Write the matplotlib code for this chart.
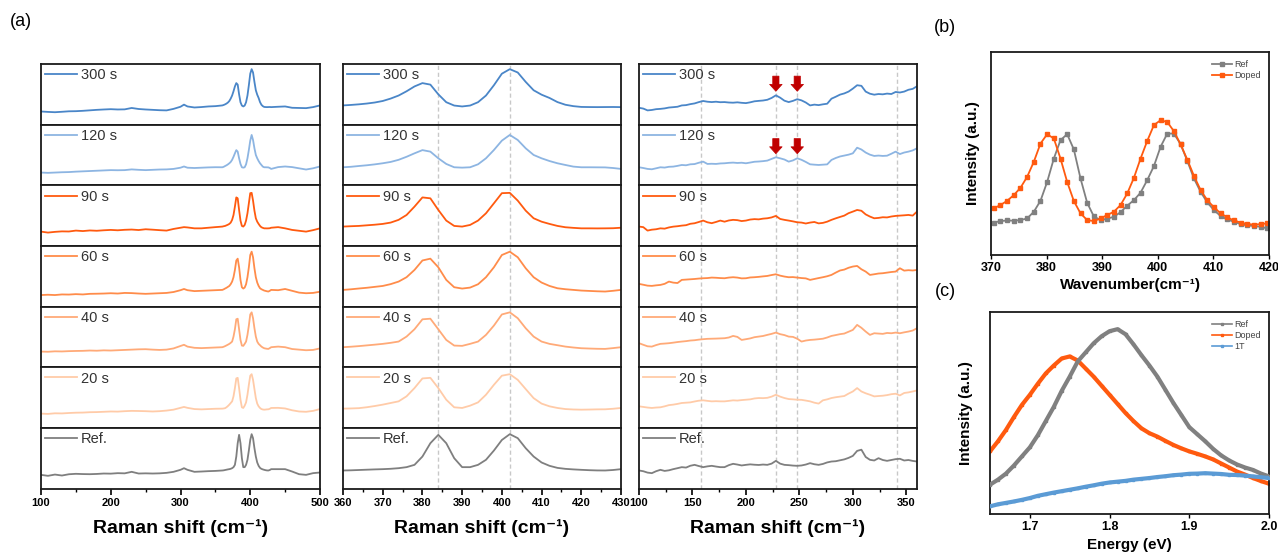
import numpy as np
import matplotlib
matplotlib.use('Agg')
import matplotlib.pyplot as plt
from matplotlib.ticker import MultipleLocator

plt.rcParams['font.family'] = ['Liberation Sans', 'DejaVu Sans']

# ---- (a) Raman spectra, full range (col 1) and A1g/E2g zoom (col 2) ----
samples = ['300 s', '120 s', '90 s', '60 s', '40 s', '20 s', 'Ref.']
colors = ['#4a86c8', '#8db5e2', '#ff5a0f', '#ff8c4a', '#ffaa78', '#ffcba8', '#7f7f7f']

raman_x = ([100, 110, 120, 130, 140, 150, 160, 170, 180, 190, 200, 210, 220, 230,
            240, 250, 260, 270, 280, 290, 300, 305, 310, 320, 330, 340, 350]
           + list(range(360, 432, 2))
           + [440, 450, 460, 470, 480, 490, 500])

r300 = [0.217, 0.210, 0.205, 0.212, 0.220, 0.222, 0.228, 0.236, 0.244, 0.250, 0.255, 0.250, 0.252, 0.275,
        0.258, 0.250, 0.244, 0.238, 0.235, 0.260, 0.295, 0.330, 0.300, 0.283, 0.290, 0.300, 0.305,
        0.317, 0.325, 0.335, 0.348, 0.365, 0.390, 0.430, 0.480, 0.550, 0.630, 0.685, 0.660, 0.500, 0.370,
        0.315, 0.300, 0.315, 0.370, 0.480, 0.650, 0.840, 0.915, 0.860, 0.705, 0.567, 0.494, 0.440, 0.372,
        0.328, 0.305, 0.292, 0.290, 0.289, 0.290, 0.291, 0.289,
        0.295, 0.300, 0.278, 0.275, 0.272, 0.289, 0.317]
r120 = [0.210, 0.205, 0.210, 0.215, 0.218, 0.225, 0.230, 0.235, 0.240, 0.245, 0.250, 0.248, 0.250, 0.262,
        0.255, 0.250, 0.255, 0.260, 0.262, 0.270, 0.290, 0.310, 0.290, 0.285, 0.290, 0.295, 0.298,
        0.297, 0.305, 0.318, 0.330, 0.345, 0.363, 0.385, 0.420, 0.470, 0.527, 0.580, 0.555, 0.445, 0.352,
        0.297, 0.291, 0.297, 0.346, 0.445, 0.582, 0.736, 0.830, 0.747, 0.610, 0.500, 0.445, 0.400, 0.363,
        0.335, 0.308, 0.297, 0.297, 0.296, 0.295, 0.285, 0.270,
        0.300, 0.310, 0.300, 0.280, 0.260, 0.280, 0.310]
r90 = [0.236, 0.220, 0.232, 0.240, 0.238, 0.253, 0.245, 0.255, 0.250, 0.258, 0.264, 0.258, 0.266, 0.270,
       0.262, 0.275, 0.268, 0.260, 0.253, 0.280, 0.300, 0.310, 0.305, 0.290, 0.290, 0.300, 0.310,
       0.319, 0.325, 0.330, 0.340, 0.350, 0.363, 0.385, 0.430, 0.510, 0.648, 0.800, 0.785, 0.593, 0.418,
       0.330, 0.319, 0.346, 0.418, 0.538, 0.703, 0.870, 0.875, 0.747, 0.582, 0.456, 0.400, 0.363, 0.330,
       0.308, 0.298, 0.290, 0.290, 0.289, 0.290, 0.292, 0.300,
       0.310, 0.290, 0.264, 0.250, 0.236, 0.260, 0.290]
r60 = [0.190, 0.195, 0.190, 0.200, 0.198, 0.205, 0.200, 0.210, 0.212, 0.215, 0.220, 0.215, 0.225, 0.222,
       0.215, 0.210, 0.215, 0.220, 0.225, 0.240, 0.270, 0.290, 0.270, 0.255, 0.260, 0.265, 0.270,
       0.275, 0.285, 0.298, 0.310, 0.325, 0.340, 0.370, 0.412, 0.484, 0.604, 0.760, 0.790, 0.648, 0.440,
       0.319, 0.297, 0.313, 0.368, 0.484, 0.648, 0.850, 0.905, 0.813, 0.632, 0.484, 0.396, 0.340, 0.302,
       0.286, 0.275, 0.264, 0.258, 0.252, 0.248, 0.260, 0.275,
       0.270, 0.290, 0.260, 0.230, 0.220, 0.225, 0.245]
r40 = [0.258, 0.255, 0.262, 0.260, 0.265, 0.268, 0.270, 0.275, 0.272, 0.278, 0.275, 0.280, 0.285, 0.290,
       0.295, 0.297, 0.290, 0.285, 0.290, 0.310, 0.350, 0.370, 0.340, 0.320, 0.315, 0.320, 0.325,
       0.330, 0.338, 0.348, 0.360, 0.372, 0.385, 0.402, 0.423, 0.505, 0.626, 0.790, 0.800, 0.626, 0.450,
       0.357, 0.352, 0.385, 0.423, 0.533, 0.687, 0.870, 0.905, 0.808, 0.643, 0.505, 0.423, 0.385, 0.363,
       0.340, 0.325, 0.313, 0.308, 0.304, 0.302, 0.315, 0.330,
       0.340, 0.330, 0.300, 0.290, 0.280, 0.285, 0.310]
r20 = [0.235, 0.230, 0.240, 0.238, 0.245, 0.250, 0.252, 0.258, 0.260, 0.265, 0.270, 0.268, 0.275, 0.280,
       0.278, 0.275, 0.270, 0.275, 0.285, 0.300, 0.330, 0.345, 0.330, 0.310, 0.305, 0.310, 0.315,
       0.317, 0.320, 0.325, 0.340, 0.360, 0.383, 0.410, 0.437, 0.520, 0.656, 0.815, 0.825, 0.656, 0.464,
       0.339, 0.328, 0.366, 0.420, 0.546, 0.710, 0.860, 0.885, 0.792, 0.640, 0.490, 0.400, 0.355, 0.328,
       0.310, 0.303, 0.300, 0.302, 0.305, 0.306, 0.315, 0.328,
       0.330, 0.320, 0.290, 0.270, 0.265, 0.280, 0.310]
rref = [0.225, 0.209, 0.230, 0.214, 0.235, 0.242, 0.238, 0.236, 0.240, 0.247, 0.245, 0.253, 0.250, 0.275,
        0.247, 0.250, 0.247, 0.250, 0.258, 0.275, 0.308, 0.335, 0.308, 0.275, 0.280, 0.286, 0.290,
        0.297, 0.300, 0.305, 0.310, 0.315, 0.319, 0.325, 0.335, 0.352, 0.390, 0.527, 0.747, 0.885, 0.747,
        0.500, 0.352, 0.352, 0.390, 0.473, 0.626, 0.800, 0.896, 0.830, 0.665, 0.527, 0.429, 0.374, 0.340,
        0.324, 0.315, 0.308, 0.302, 0.298, 0.297, 0.305, 0.319,
        0.319, 0.319, 0.280, 0.236, 0.225, 0.253, 0.264]

# ---- (a) low-frequency zoom (col 3) ----
low_x = list(range(100, 364, 4))
w300 = [0.278, 0.265, 0.235, 0.242, 0.255, 0.260, 0.268, 0.282, 0.288, 0.295,
        0.317, 0.322, 0.338, 0.350, 0.372, 0.390, 0.378, 0.372, 0.378, 0.370,
        0.372, 0.365, 0.362, 0.368, 0.360, 0.355, 0.368, 0.385, 0.392, 0.398,
        0.410, 0.440, 0.483, 0.445, 0.395, 0.372, 0.392, 0.420, 0.400, 0.365,
        0.317, 0.330, 0.322, 0.335, 0.345, 0.428, 0.460, 0.495, 0.515, 0.545,
        0.594, 0.650, 0.640, 0.545, 0.510, 0.494, 0.505, 0.500, 0.512, 0.505,
        0.539, 0.530, 0.545, 0.575, 0.590, 0.633]
w120 = [0.297, 0.285, 0.270, 0.264, 0.280, 0.297, 0.292, 0.305, 0.308, 0.320,
        0.335, 0.330, 0.346, 0.350, 0.372, 0.390, 0.352, 0.355, 0.352, 0.360,
        0.363, 0.370, 0.374, 0.368, 0.372, 0.363, 0.375, 0.388, 0.392, 0.398,
        0.407, 0.435, 0.462, 0.445, 0.425, 0.390, 0.410, 0.445, 0.420, 0.385,
        0.346, 0.340, 0.335, 0.340, 0.345, 0.418, 0.450, 0.475, 0.490, 0.505,
        0.527, 0.620, 0.590, 0.540, 0.505, 0.484, 0.490, 0.484, 0.488, 0.520,
        0.555, 0.515, 0.540, 0.555, 0.575, 0.610]
w90 = [0.319, 0.310, 0.253, 0.268, 0.275, 0.290, 0.285, 0.305, 0.318, 0.325,
       0.335, 0.342, 0.365, 0.374, 0.395, 0.418, 0.390, 0.375, 0.395, 0.418,
       0.400, 0.420, 0.430, 0.425, 0.410, 0.418, 0.435, 0.442, 0.438, 0.450,
       0.456, 0.470, 0.495, 0.445, 0.430, 0.418, 0.405, 0.390, 0.385, 0.370,
       0.385, 0.395, 0.372, 0.380, 0.400, 0.430, 0.455, 0.478, 0.500, 0.540,
       0.566, 0.593, 0.580, 0.520, 0.484, 0.456, 0.462, 0.473, 0.470, 0.485,
       0.495, 0.500, 0.505, 0.511, 0.500, 0.566]
w60 = [0.374, 0.360, 0.345, 0.341, 0.350, 0.357, 0.375, 0.412, 0.395, 0.388,
       0.440, 0.445, 0.450, 0.455, 0.462, 0.467, 0.470, 0.478, 0.475, 0.470,
       0.467, 0.478, 0.484, 0.478, 0.465, 0.467, 0.480, 0.484, 0.490, 0.498,
       0.505, 0.520, 0.533, 0.510, 0.495, 0.484, 0.486, 0.478, 0.470, 0.465,
       0.440, 0.455, 0.470, 0.484, 0.500, 0.522, 0.560, 0.595, 0.610, 0.640,
       0.660, 0.670, 0.615, 0.577, 0.522, 0.533, 0.545, 0.550, 0.560, 0.570,
       0.577, 0.632, 0.593, 0.600, 0.595, 0.604]
w40 = [0.396, 0.370, 0.345, 0.340, 0.365, 0.385, 0.390, 0.396, 0.405, 0.415,
       0.423, 0.430, 0.440, 0.445, 0.455, 0.462, 0.468, 0.470, 0.472, 0.475,
       0.478, 0.490, 0.516, 0.500, 0.450, 0.462, 0.475, 0.495, 0.505, 0.515,
       0.533, 0.550, 0.571, 0.545, 0.530, 0.505, 0.500, 0.470, 0.423, 0.440,
       0.450, 0.455, 0.462, 0.470, 0.490, 0.516, 0.530, 0.545, 0.555, 0.585,
       0.615, 0.698, 0.650, 0.588, 0.533, 0.560, 0.555, 0.550, 0.565, 0.560,
       0.571, 0.560, 0.575, 0.588, 0.605, 0.643]
w20 = [0.355, 0.345, 0.335, 0.328, 0.335, 0.339, 0.355, 0.375, 0.383, 0.395,
       0.410, 0.415, 0.420, 0.435, 0.448, 0.454, 0.445, 0.437, 0.440, 0.437,
       0.437, 0.445, 0.454, 0.450, 0.458, 0.464, 0.470, 0.485, 0.492, 0.490,
       0.495, 0.515, 0.546, 0.515, 0.492, 0.475, 0.470, 0.464, 0.462, 0.450,
       0.437, 0.415, 0.400, 0.454, 0.470, 0.492, 0.505, 0.515, 0.525, 0.565,
       0.600, 0.656, 0.600, 0.570, 0.546, 0.519, 0.525, 0.530, 0.540, 0.555,
       0.563, 0.535, 0.575, 0.585, 0.600, 0.617]
wref = [0.297, 0.285, 0.262, 0.253, 0.285, 0.308, 0.290, 0.300, 0.319, 0.335,
        0.352, 0.345, 0.375, 0.390, 0.370, 0.352, 0.365, 0.374, 0.362, 0.352,
        0.352, 0.385, 0.407, 0.395, 0.380, 0.390, 0.398, 0.392, 0.388, 0.395,
        0.390, 0.410, 0.456, 0.410, 0.390, 0.385, 0.378, 0.374, 0.380, 0.395,
        0.418, 0.400, 0.390, 0.405, 0.430, 0.445, 0.450, 0.465, 0.480, 0.505,
        0.538, 0.620, 0.640, 0.520, 0.473, 0.462, 0.500, 0.470, 0.456, 0.470,
        0.484, 0.490, 0.462, 0.470, 0.455, 0.445]

# ---- (b) Raman comparison ----
wn_x = [370.5, 371.7, 372.9, 374.1, 375.3, 376.5, 377.7, 378.9, 380.1, 381.3,
        382.5, 383.7, 384.9, 386.1, 387.3, 388.5, 389.7, 390.9, 392.1, 393.3,
        394.5, 395.7, 396.9, 398.1, 399.3, 400.5, 401.7, 402.9, 404.1, 405.3,
        406.5, 407.7, 408.9, 410.1, 411.3, 412.5, 413.7, 414.9, 416.1, 417.3,
        418.5, 419.7]
b_ref = [0.160, 0.167, 0.170, 0.169, 0.172, 0.180, 0.213, 0.267, 0.360, 0.475,
         0.566, 0.595, 0.520, 0.377, 0.257, 0.190, 0.172, 0.179, 0.188, 0.211,
         0.243, 0.270, 0.307, 0.369, 0.438, 0.533, 0.598, 0.598, 0.546, 0.464,
         0.377, 0.311, 0.259, 0.221, 0.192, 0.175, 0.164, 0.152, 0.146, 0.143,
         0.139, 0.131]
b_doped = [0.230, 0.246, 0.267, 0.295, 0.331, 0.385, 0.459, 0.549, 0.595, 0.574,
           0.475, 0.360, 0.266, 0.205, 0.172, 0.167, 0.180, 0.197, 0.213, 0.246,
           0.303, 0.380, 0.475, 0.562, 0.640, 0.664, 0.655, 0.610, 0.545, 0.470,
           0.390, 0.320, 0.270, 0.235, 0.205, 0.185, 0.170, 0.160, 0.152, 0.150,
           0.152, 0.156]

# ---- (c) PL ----
pl_x = [1.65, 1.66, 1.67, 1.68, 1.69, 1.70, 1.71, 1.72, 1.73, 1.74, 1.75, 1.76,
        1.77, 1.78, 1.79, 1.80, 1.81, 1.82, 1.83, 1.84, 1.85, 1.86, 1.87, 1.88,
        1.89, 1.90, 1.91, 1.92, 1.93, 1.94, 1.95, 1.96, 1.97, 1.98, 1.99, 2.00]
pl_ref = [0.145, 0.170, 0.200, 0.240, 0.285, 0.330, 0.390, 0.460, 0.530, 0.610, 0.680, 0.755,
          0.800, 0.845, 0.880, 0.905, 0.915, 0.890, 0.840, 0.786, 0.735, 0.680, 0.615, 0.550,
          0.490, 0.430, 0.395, 0.360, 0.322, 0.290, 0.265, 0.245, 0.230, 0.218, 0.200, 0.186]
pl_doped = [0.310, 0.360, 0.416, 0.480, 0.540, 0.590, 0.645, 0.696, 0.735, 0.770, 0.780, 0.760,
            0.720, 0.680, 0.635, 0.590, 0.545, 0.500, 0.460, 0.424, 0.400, 0.383, 0.362, 0.342,
            0.325, 0.310, 0.298, 0.285, 0.270, 0.250, 0.230, 0.210, 0.195, 0.178, 0.163, 0.150]
pl_1t = [0.038, 0.048, 0.055, 0.062, 0.070, 0.079, 0.090, 0.098, 0.106, 0.113, 0.120, 0.127,
         0.135, 0.142, 0.150, 0.156, 0.160, 0.164, 0.170, 0.174, 0.178, 0.183, 0.187, 0.192,
         0.195, 0.199, 0.200, 0.202, 0.200, 0.198, 0.194, 0.193, 0.190, 0.186, 0.182, 0.178]

spectra = [r300, r120, r90, r60, r40, r20, rref]
low_spectra = [w300, w120, w90, w60, w40, w20, wref]

W, H = 1278, 556
fig = plt.figure(figsize=(W / 100, H / 100), dpi=100)


def px_axes(l, t, r, b):
    return fig.add_axes([l / W, 1 - b / H, (r - l) / W, (b - t) / H])


def style_box(ax, lw=1.3):
    for s in ax.spines.values():
        s.set_linewidth(lw)
        s.set_color('#1a1a1a')


cols = [
    (41, 320, (100, 500), 100, 50, [], raman_x, spectra),
    (343, 621, (360, 430), 10, 5, [384, 402], raman_x, spectra),
    (639, 917, (100, 360), 50, 25, [158, 228, 248, 341], low_x, low_spectra),
]
top, bottom = 64, 488.5
rh = (bottom - top) / 7

for ci, (l, r, xlim, major, minor, dashes, xs, ys) in enumerate(cols):
    for i in range(7):
        ax = px_axes(l, top + i * rh, r, top + (i + 1) * rh)
        for d in dashes:
            ax.axvline(d, color='#c8c8c8', ls=(0, (3, 2)), lw=1, zorder=0)
        ax.plot(xs, ys[i], color=colors[i], lw=1.3, label=samples[i])
        ax.set_xlim(*xlim)
        ax.set_ylim(0, 1)
        ax.set_yticks([])
        style_box(ax)
        ax.legend(loc='upper left', frameon=False, fontsize=10.5, handlelength=2.2,
                  handletextpad=0.25, borderaxespad=0.15, borderpad=0.15,
                  labelcolor='#333333')
        if ci == 2 and i < 2:
            for ax_x in [228, 248]:
                ax.annotate('', xy=(ax_x, 0.55 - 0.03 * i), xycoords=('data', 'axes fraction'),
                            xytext=(ax_x, 0.80 - 0.03 * i), textcoords=('data', 'axes fraction'),
                            arrowprops=dict(arrowstyle='simple,head_length=0.5,head_width=0.9,tail_width=0.45',
                                            fc='#c00000', ec='#c00000', lw=0.5,
                                            shrinkA=0, shrinkB=0))
        if i < 6:
            ax.set_xticks([])
        else:
            ax.xaxis.set_major_locator(MultipleLocator(major))
            ax.xaxis.set_minor_locator(MultipleLocator(minor))
            ax.tick_params(axis='x', which='major', direction='out', length=4, width=1.2,
                           labelsize=8, pad=3)
            ax.tick_params(axis='x', which='minor', direction='out', length=2.5, width=1.0)
            for t in ax.get_xticklabels():
                t.set_fontweight('bold')
            ax.set_xlabel('Raman shift (cm⁻¹)', fontsize=14, fontweight='bold', labelpad=8)

# (b)
axb = px_axes(991, 52, 1269, 255)
axb.plot(wn_x, b_ref, color='#808080', marker='s', ms=3.5, lw=1.3, label='Ref')
axb.plot(wn_x, b_doped, color='#ff5a0f', marker='s', ms=3.5, lw=1.3, label='Doped')
axb.set_xlim(370, 420)
axb.set_ylim(0, 1)
axb.set_yticks([])
axb.xaxis.set_major_locator(MultipleLocator(10))
axb.tick_params(axis='x', direction='out', length=3, width=1, labelsize=9, pad=2)
for t in axb.get_xticklabels():
    t.set_fontweight('bold')
axb.set_xlabel('Wavenumber(cm⁻¹)', fontsize=11, fontweight='bold', labelpad=3)
axb.set_ylabel('Intensity (a.u.)', fontsize=11, fontweight='bold', labelpad=8)
style_box(axb)
axb.legend(loc='upper right', frameon=False, fontsize=6.5, handlelength=2.2,
           handletextpad=0.3, labelspacing=0.2, borderaxespad=0.5, labelcolor='#444444')

# (c)
axc = px_axes(990, 312, 1269, 514)
axc.plot(pl_x, pl_ref, color='#808080', marker='s', ms=2, lw=3, label='Ref', zorder=3)
axc.plot(pl_x, pl_doped, color='#ff5a0f', marker='s', ms=2, lw=3, label='Doped', zorder=2)
axc.plot(pl_x, pl_1t, color='#5b9bd5', marker='s', ms=2, lw=3, label='1T', zorder=4)
axc.set_xlim(1.65, 2.0)
axc.set_ylim(0, 1)
axc.set_yticks([])
axc.xaxis.set_major_locator(MultipleLocator(0.1))
axc.tick_params(axis='x', direction='out', length=3, width=1, labelsize=9, pad=2)
for t in axc.get_xticklabels():
    t.set_fontweight('bold')
axc.set_xlabel('Energy (eV)', fontsize=11, fontweight='bold', labelpad=4)
axc.set_ylabel('Intensity (a.u.)', fontsize=11, fontweight='bold', labelpad=12)
style_box(axc)
leg = axc.legend(loc='upper right', frameon=False, fontsize=6.5, handlelength=2.2,
                 handletextpad=0.3, labelspacing=0.2, borderaxespad=0.5, labelcolor='#444444')
for h in leg.get_lines():
    h.set_linewidth(1.2)

fig.text(21 / W, 1 - 21 / H, '(a)', fontsize=13, ha='center', va='center')
fig.text(945 / W, 1 - 28 / H, '(b)', fontsize=13, ha='center', va='center')
fig.text(945 / W, 1 - 292 / H, '(c)', fontsize=13, ha='center', va='center')

fig.savefig('out.png', dpi=100)
